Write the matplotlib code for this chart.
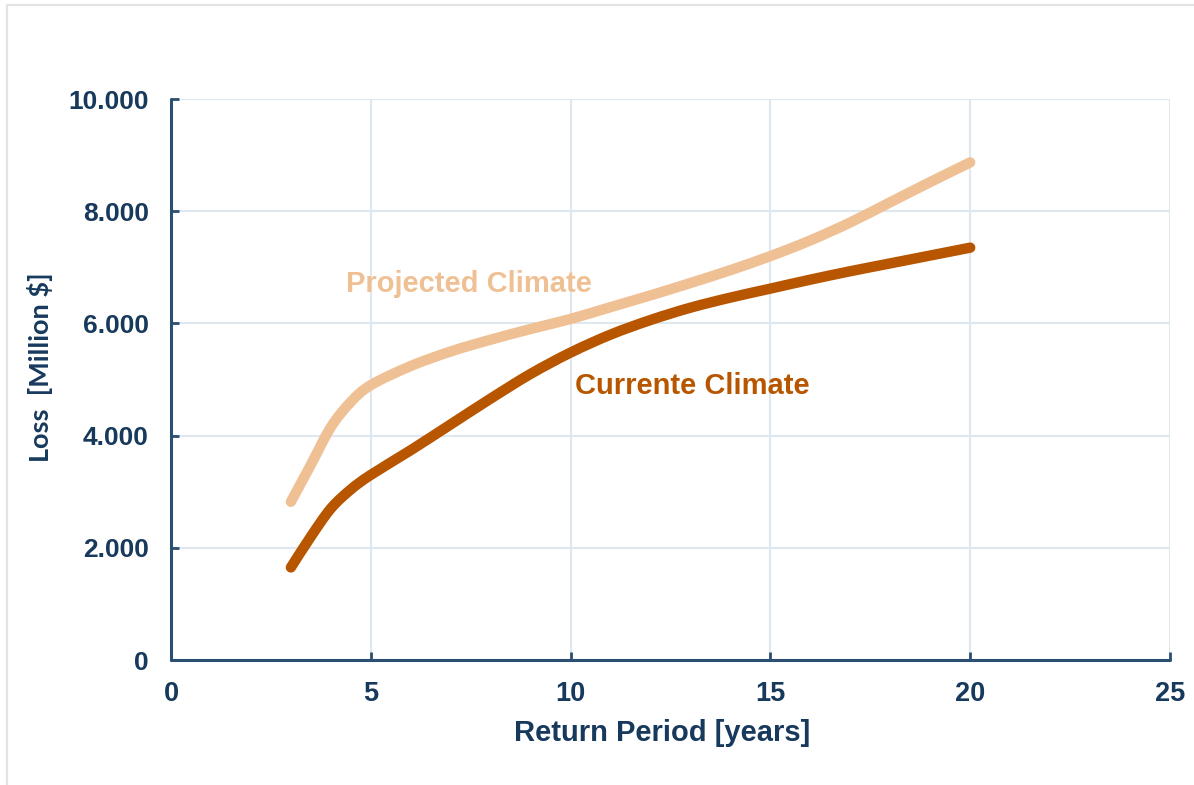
import matplotlib
matplotlib.use("Agg")
import matplotlib.pyplot as plt
from matplotlib.path import Path
from matplotlib.patches import PathPatch, Rectangle
from matplotlib.ticker import FuncFormatter

# Return periods (years) and losses (million $)
return_period = [3, 3.5, 4, 4.5, 5, 6, 7, 8, 9, 10, 11, 12, 13, 14, 15, 16, 17, 18, 19, 20]
loss_projected = [2820, 3480, 4150, 4600, 4900, 5240, 5500, 5710, 5900, 6080,
                  6290, 6500, 6720, 6950, 7200, 7480, 7800, 8160, 8520, 8870]
loss_current = [1650, 2200, 2700, 3040, 3300, 3740, 4200, 4660, 5100, 5480,
                5800, 6060, 6280, 6460, 6620, 6780, 6930, 7070, 7210, 7350]

x_ticks = [0, 5, 10, 15, 20, 25]
y_ticks = [0, 2000, 4000, 6000, 8000, 10000]

NAVY = "#17395c"
SPINE = "#2b4f72"
GRID = "#dfe7ef"
LIGHT_ORANGE = "#f0c095"
DARK_ORANGE = "#b85600"
FONT = "Liberation Sans"


def smooth_path(xs, ys, tension=1.0 / 6.0):
    """Cubic Bezier path through the points (Catmull-Rom style smoothing)."""
    pts = list(zip(xs, ys))
    verts = [pts[0]]
    codes = [Path.MOVETO]
    n = len(pts)
    for i in range(n - 1):
        p0 = pts[i - 1] if i > 0 else pts[i]
        p1 = pts[i]
        p2 = pts[i + 1]
        p3 = pts[i + 2] if i + 2 < n else pts[i + 1]
        c1 = (p1[0] + (p2[0] - p0[0]) * tension, p1[1] + (p2[1] - p0[1]) * tension)
        c2 = (p2[0] - (p3[0] - p1[0]) * tension, p2[1] - (p3[1] - p1[1]) * tension)
        verts += [c1, c2, p2]
        codes += [Path.CURVE4] * 3
    return Path(verts, codes)


fig = plt.figure(figsize=(11.94, 7.85), dpi=100)
fig.patch.set_facecolor("white")

# thin grey frame around the chart area
fig.add_artist(Rectangle((7 / 1194, -0.05), 1.2, 1 - 5 / 785 + 0.05,
                         transform=fig.transFigure, fill=False,
                         edgecolor="#e3e3e3", linewidth=1.6))

ax = fig.add_axes([171 / 1194, 125 / 785, 999 / 1194, 561 / 785])
ax.set_xlim(0, 25)
ax.set_ylim(0, 10000)

ax.set_xticks(x_ticks)
ax.set_yticks(y_ticks)
ax.yaxis.set_major_formatter(FuncFormatter(lambda v, _: f"{v:,.0f}".replace(",", ".")))

ax.grid(True, color=GRID, linewidth=1.5, zorder=0)
ax.set_axisbelow(True)

for side in ("top", "right"):
    ax.spines[side].set_visible(False)
for side in ("left", "bottom"):
    ax.spines[side].set_color(SPINE)
    ax.spines[side].set_linewidth(2.2)
    ax.spines[side].set_capstyle("round")

ax.tick_params(axis="both", direction="in", length=6, width=2, color=SPINE)
ax.tick_params(axis="y", pad=16)
ax.tick_params(axis="x", pad=15)

for lbl in ax.get_yticklabels():
    lbl.set_fontfamily(FONT)
    lbl.set_fontweight("bold")
    lbl.set_fontsize(19)
    lbl.set_color(NAVY)
for lbl in ax.get_xticklabels():
    lbl.set_fontfamily(FONT)
    lbl.set_fontweight("bold")
    lbl.set_fontsize(19.5)
    lbl.set_color(NAVY)

for ys, col in ((loss_projected, LIGHT_ORANGE), (loss_current, DARK_ORANGE)):
    patch = PathPatch(smooth_path(return_period, ys), fill=False, edgecolor=col,
                      linewidth=7.5, capstyle="round", joinstyle="round", zorder=3)
    ax.add_patch(patch)

ax.text(4.38, 6700, "Projected Climate", color=LIGHT_ORANGE, fontsize=21,
        fontweight="bold", fontfamily=FONT, ha="left", va="center")
ax.text(10.11, 4880, "Currente Climate", color=DARK_ORANGE, fontsize=21,
        fontweight="bold", fontfamily=FONT, ha="left", va="center")

fig.text(662 / 1194, 1 - 733 / 785, "Return Period [years]", color=NAVY,
         fontsize=21, fontweight="bold", fontfamily=FONT, ha="center", va="center")
fig.text(40 / 1194, 1 - 367 / 785, "Loss  [Million $]", color=NAVY, rotation=90,
         fontsize=19.5, fontweight="bold", fontfamily="Lato", ha="center", va="center")

fig.savefig("out.png", dpi=100, facecolor="white")
